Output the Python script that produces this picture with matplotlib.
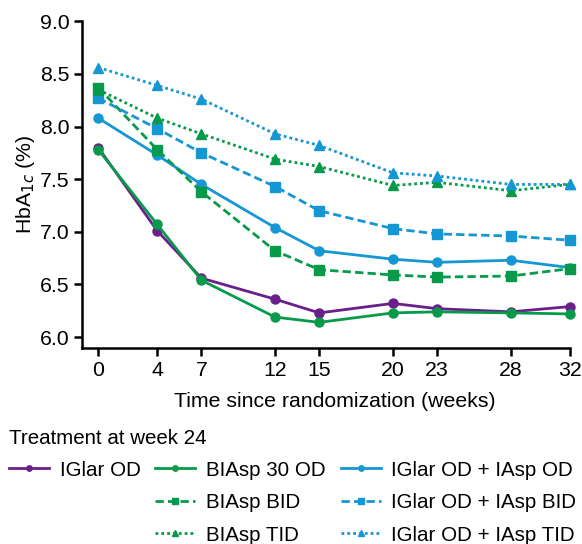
import matplotlib
matplotlib.use("Agg")
import matplotlib.pyplot as plt
from matplotlib.lines import Line2D

plt.rcParams['font.family'] = ['Liberation Sans', 'DejaVu Sans']

weeks = [0, 4, 7, 12, 15, 20, 23, 28, 32]
iglar_od = [7.80, 7.01, 6.56, 6.36, 6.23, 6.32, 6.27, 6.24, 6.29]
biasp30_od = [7.78, 7.07, 6.54, 6.19, 6.14, 6.23, 6.24, 6.23, 6.22]
iglar_iasp_od = [8.08, 7.73, 7.45, 7.04, 6.82, 6.74, 6.71, 6.73, 6.66]
biasp_bid = [8.37, 7.78, 7.38, 6.82, 6.64, 6.59, 6.57, 6.58, 6.65]
iglar_iasp_bid = [8.27, 7.98, 7.75, 7.43, 7.20, 7.03, 6.98, 6.96, 6.92]
biasp_tid = [8.35, 8.08, 7.93, 7.69, 7.62, 7.44, 7.47, 7.39, 7.45]
iglar_iasp_tid = [8.56, 8.39, 8.26, 7.93, 7.82, 7.56, 7.53, 7.45, 7.45]
yticks = [6.0, 6.5, 7.0, 7.5, 8.0, 8.5, 9.0]

PURPLE = '#6a1f8a'
GREEN = '#069a4a'
BLUE = '#1597d4'
FS = 15.3
LFS = 14.8

fig = plt.figure(figsize=(5.82, 5.44), dpi=100)
ax = fig.add_axes([0.141, 0.360, 0.838, 0.601])

dot = (0, (1, 1.1))
dash = (0, (3, 1.5))
series = [
    (iglar_od, PURPLE, '-', 'o', 6.5, 'IGlar OD'),
    (biasp30_od, GREEN, '-', 'o', 6.5, 'BIAsp 30 OD'),
    (iglar_iasp_od, BLUE, '-', 'o', 6.5, 'IGlar OD + IAsp OD'),
    (biasp_bid, GREEN, dash, 's', 6.5, 'BIAsp BID'),
    (iglar_iasp_bid, BLUE, dash, 's', 6.5, 'IGlar OD + IAsp BID'),
    (biasp_tid, GREEN, dot, '^', 7, 'BIAsp TID'),
    (iglar_iasp_tid, BLUE, dot, '^', 7, 'IGlar OD + IAsp TID'),
]
handles = {}
for vals, c, ls, m, ms, lab in series:
    ln, = ax.plot(weeks, vals, color=c, linestyle=ls, marker=m, markersize=ms,
                  linewidth=2.0, label=lab, clip_on=False, zorder=3)
    handles[lab] = ln

ax.set_xlim(-1.1, 32)
ax.set_ylim(5.895, 9.0)
ax.set_xticks(weeks)
ax.set_yticks(yticks)
ax.set_yticklabels([f'{v:.1f}' for v in yticks])
for s in ['top', 'right']:
    ax.spines[s].set_visible(False)
for s in ['left', 'bottom']:
    ax.spines[s].set_linewidth(1.8)
ax.tick_params(axis='both', labelsize=FS, width=1.8, length=6, direction='out', pad=3)
ax.set_xlabel('Time since randomization (weeks)', fontsize=FS)
ax.xaxis.set_label_coords(0.518, -0.135)
ax.set_ylabel('HbA$_{1c}$ (%)', fontsize=FS, labelpad=2)

blank = Line2D([], [], linestyle='none', marker='none')
order = [handles['IGlar OD'], blank, blank,
         handles['BIAsp 30 OD'], handles['BIAsp BID'], handles['BIAsp TID'],
         handles['IGlar OD + IAsp OD'], handles['IGlar OD + IAsp BID'], handles['IGlar OD + IAsp TID']]
labels = ['IGlar OD', '', '',
          'BIAsp 30 OD', 'BIAsp BID', 'BIAsp TID',
          'IGlar OD + IAsp OD', 'IGlar OD + IAsp BID', 'IGlar OD + IAsp TID']
leg = fig.legend(order, labels, ncol=3, loc='upper left',
                 bbox_to_anchor=(9 / 582, 1 - 429 / 544),
                 frameon=False, fontsize=LFS, title='Treatment at week 24', title_fontsize=LFS,
                 handlelength=1.94, handletextpad=0.53, columnspacing=0.72, labelspacing=0.66,
                 markerscale=0.6, borderaxespad=0.0, borderpad=0.0)
leg._legend_box.align = 'left'
leg._legend_box.sep = 9

fig.savefig('out.png', dpi=100)
